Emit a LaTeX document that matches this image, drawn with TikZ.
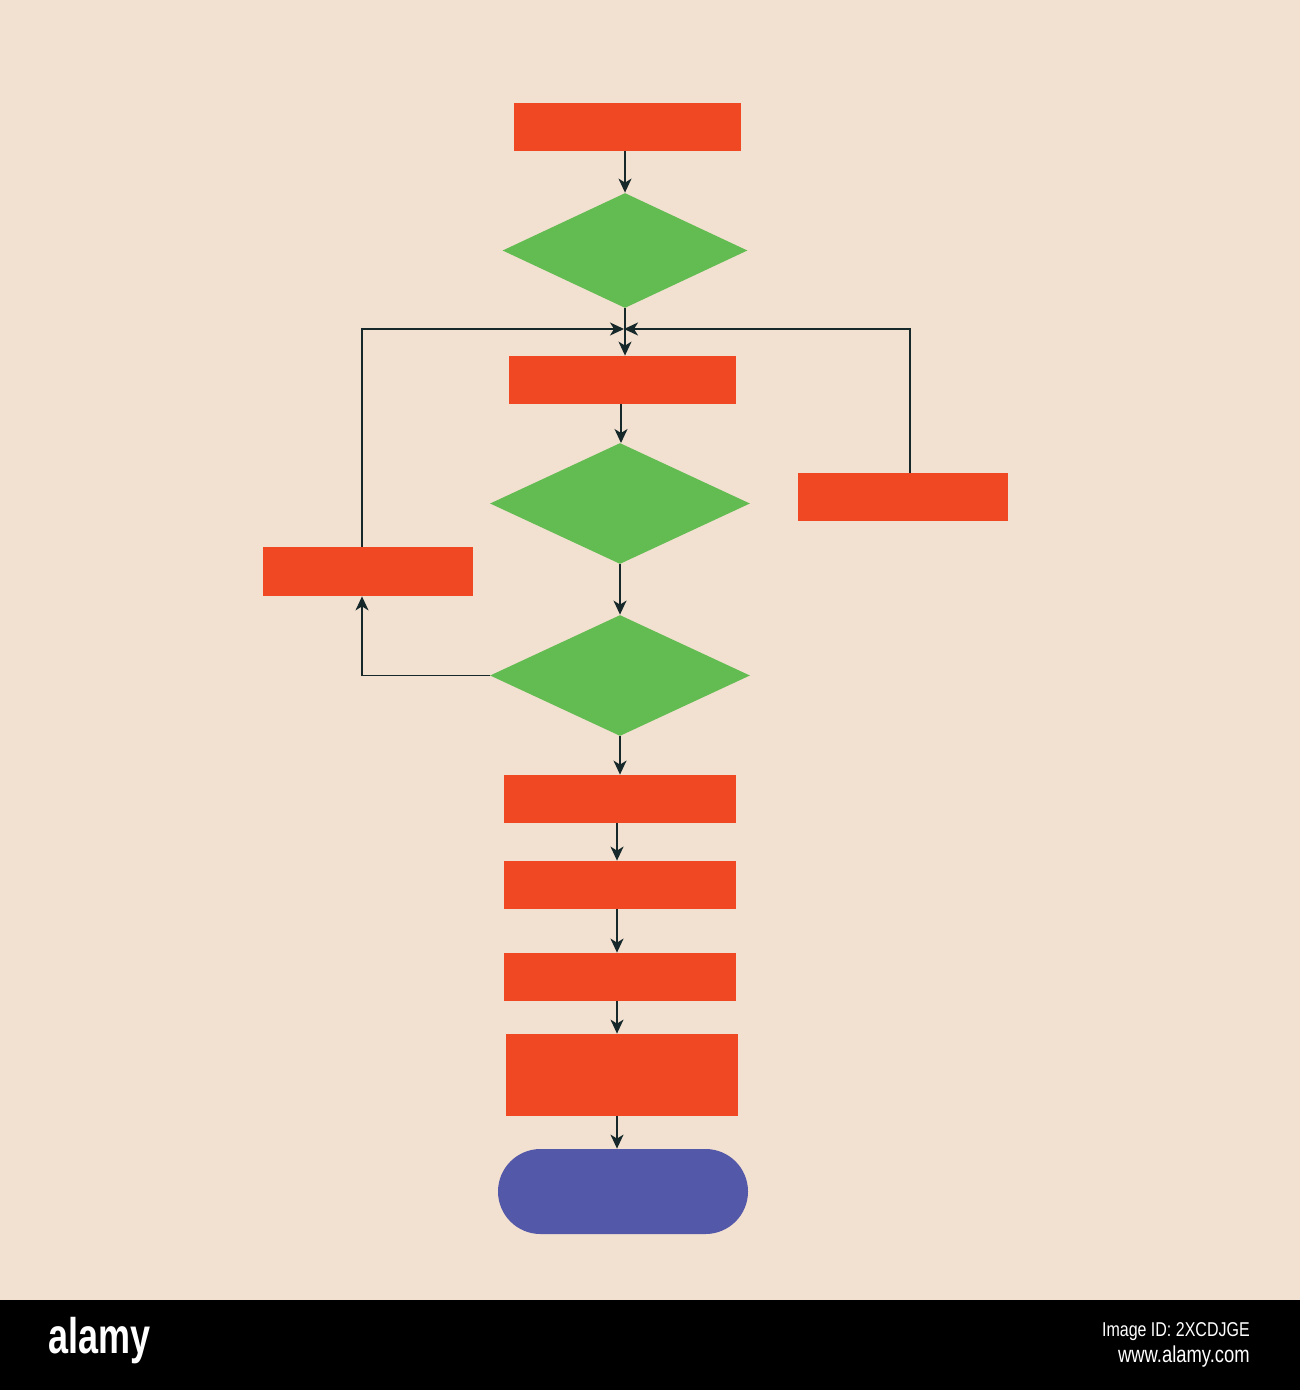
\documentclass[tikz,border=0pt]{standalone}
\usepackage{fontspec}
\setmainfont{Liberation Sans}
\usetikzlibrary{shapes.geometric,arrows.meta}
\definecolor{bgc}{HTML}{F2E0D0}
\definecolor{redc}{HTML}{EF4823}
\definecolor{greenc}{HTML}{62BC51}
\definecolor{bluec}{HTML}{5458A8}
\definecolor{linec}{HTML}{16282A}
\begin{document}
\begin{tikzpicture}[x=0.5pt,y=-0.5pt,
  procbox/.style={rectangle,fill=redc,draw=none,inner sep=0pt},
  decbox/.style={diamond,fill=greenc,draw=none,inner sep=0pt},
  termbox/.style={rectangle,fill=bluec,draw=none,inner sep=0pt,rounded corners=21.25pt},
  conn/.style={draw=linec,line width=0.75pt,-{Stealth[length=7pt,width=6.5pt,inset=2pt]}},
  foott/.style={text=white,inner sep=0pt}]
\fill[bgc] (0,0) rectangle (1300,1300);
\fill[black] (0,1300) rectangle (1300,1390);
\useasboundingbox (0,0) rectangle (1300,1390);
% nodes
\node[procbox,minimum width=113.5pt,minimum height=24pt] (b1) at (627.5,127) {};
\node[decbox,minimum width=122.5pt,minimum height=57.5pt] (d1) at (625,250.5) {};
\node[procbox,minimum width=113.5pt,minimum height=24pt] (b2) at (622.5,380) {};
\node[decbox,minimum width=130pt,minimum height=60.5pt] (d2) at (620,503.5) {};
\node[decbox,minimum width=130pt,minimum height=60.5pt] (d3) at (620,675.5) {};
\node[procbox,minimum width=105pt,minimum height=24.5pt] (bL) at (368,571.5) {};
\node[procbox,minimum width=105pt,minimum height=24pt] (bR) at (903,497) {};
\node[procbox,minimum width=116pt,minimum height=24pt] (b4) at (620,799) {};
\node[procbox,minimum width=116pt,minimum height=24pt] (b5) at (620,885) {};
\node[procbox,minimum width=116pt,minimum height=24pt] (b6) at (620,977) {};
\node[procbox,minimum width=116pt,minimum height=41pt] (b7) at (622,1075) {};
\node[termbox,minimum width=125pt,minimum height=42.5pt] (t) at (623,1191.5) {};
% helper coordinates
\coordinate (J) at (624,329);
\coordinate (lx) at (362,0);
\coordinate (rx) at (910,0);
\coordinate (cx) at (617,0);
% connectors
\draw[conn] (b1.south -| d1.north) -- (d1.north);
\draw[conn] (d1.south) -- (d1.south |- b2.north);
\draw[conn] (lx |- bL.north) |- (J);
\draw[conn] (rx |- bR.north) |- (J);
\draw[conn] (b2.south -| 621,0) -- (621,443);
\draw[conn] (d2.south) -- (d3.north);
\draw[conn] (d3.west) -| (lx |- bL.south);
\draw[conn] (d3.south) -- (d3.south |- b4.north);
\draw[conn] (cx |- b4.south) -- (cx |- b5.north);
\draw[conn] (cx |- b5.south) -- (cx |- b6.north);
\draw[conn] (cx |- b6.south) -- (cx |- b7.north);
\draw[conn] (cx |- b7.south) -- (cx |- t.north);
% footer
\node[foott,anchor=west,xscale=0.72,font=\bfseries\fontsize{25}{25}\selectfont] (logo) at (48,1341) {alamy};
\node[foott,anchor=east,xscale=0.8,font=\fontsize{10}{10}\selectfont] (imgid) at (1250,1332) {Image ID: 2XCDJGE};
\node[foott,anchor=east,xscale=0.8,font=\fontsize{11.5}{11.5}\selectfont] (url) at (1250,1357) {www.alamy.com};
\end{tikzpicture}
\end{document}
